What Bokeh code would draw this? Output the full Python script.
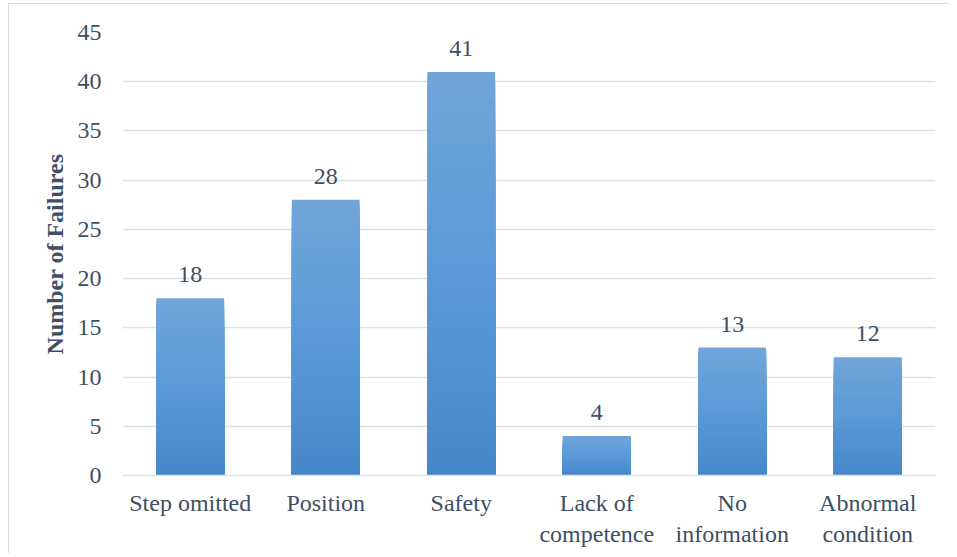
from bokeh.plotting import figure
from bokeh.models import ColumnDataSource, FactorRange, Range1d, SingleIntervalTicker
from bokeh.core.properties import value
from bokeh.embed import file_html
from bokeh.resources import INLINE

categories = ["Step omitted", "Position", "Safety", "Lack of\ncompetence", "No\ninformation", "Abnormal\ncondition"]
failures = [18, 28, 41, 4, 13, 12]

FONT = "Liberation Serif"
TXT = "#404F63"
GRID = "#DCE1E8"

p = figure(x_range=FactorRange(*categories), y_range=Range1d(0, 45),
           width=940, height=550, output_backend="svg", toolbar_location=None,
           min_border_left=113, min_border_right=14, min_border_top=28, min_border_bottom=79)
p.styles = {"margin-left": "8px", "margin-top": "3px",
            "border-left": "1px solid #D6DCE5", "border-top": "1px solid #D6DCE5"}
p.outline_line_color = None

# gradient bars: overlapping bars from tallest (lightest) to shortest (darkest)
stops = [(0.0, (0x45, 0x87, 0xC8)), (0.5, (0x5A, 0x9A, 0xD9)), (1.0, (0x71, 0xA5, 0xD9))]
def grad(t):
    for (t0, c0), (t1, c1) in zip(stops[:-1], stops[1:]):
        if t <= t1:
            f = (t - t0) / (t1 - t0)
            return "#%02x%02x%02x" % tuple(int(round(a + (b - a) * f)) for a, b in zip(c0, c1))
    return "#%02x%02x%02x" % stops[-1][1]

n = 60
xs, tops, cols = [], [], []
for k in range(n, 0, -1):
    for c, v in zip(categories, failures):
        xs.append(c)
        tops.append(v * k / n)
        cols.append(grad((k - 0.5) / n))
p.vbar(x=xs, bottom=0, top=tops, width=0.5, fill_color=cols, line_color=None)

src = ColumnDataSource(dict(x=categories, y=failures, t=[str(v) for v in failures]))
p.text(x="x", y="y", text="t", source=src, text_align="center", text_baseline="bottom",
       y_offset=-16, text_font=value(FONT), text_font_size="24px", text_color=TXT)

p.xgrid.grid_line_color = None
p.ygrid.grid_line_color = GRID
p.ygrid.grid_line_width = 1.5
p.yaxis.ticker = SingleIntervalTicker(interval=5)
p.yaxis.axis_line_color = None
p.xaxis.axis_line_color = GRID
p.xaxis.axis_line_width = 1.5
for ax in (p.xaxis, p.yaxis):
    ax.major_tick_line_color = None
    ax.minor_tick_line_color = None
    ax.major_label_text_font = FONT
    ax.major_label_text_font_size = "24px"
    ax.major_label_text_color = TXT
p.yaxis.major_label_standoff = 15
p.xaxis.major_label_standoff = 8
p.yaxis.axis_label = "Number of Failures"
p.yaxis.axis_label_text_font = FONT
p.yaxis.axis_label_text_font_size = "24px"
p.yaxis.axis_label_text_font_style = "bold"
p.yaxis.axis_label_text_color = TXT
p.yaxis.axis_label_standoff = 7

open("out.html", "w").write(file_html(p, INLINE))
